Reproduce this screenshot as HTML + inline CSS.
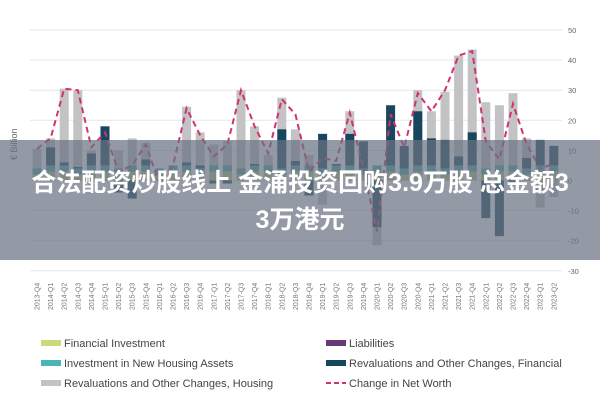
<!DOCTYPE html>
<html><head><meta charset="utf-8"><style>
body{margin:0;width:600px;height:400px;background:#fff;overflow:hidden;font-family:"Liberation Sans",sans-serif;position:relative}
.ban{position:absolute;left:0;top:140px;width:600px;height:120px;background:rgba(105,115,130,0.72);color:#fff;font:bold 25px "Liberation Sans","Noto Sans CJK SC",sans-serif;text-align:center;line-height:37px;padding-top:25px;box-sizing:border-box;white-space:nowrap}
</style></head><body>
<svg id="s" width="600" height="400" style="position:absolute;left:0;top:0"></svg>
<div class="ban">合法配资炒股线上 金涌投资回购3.9万股 总金额3<br>3万港元</div>
<script>
var s=document.getElementById('s'),h='';
function Y(v){return 180.5-v*3.01}
for(var v=-30;v<=50;v+=10){h+='<line x1="30" x2="562" y1="'+Y(v)+'" y2="'+Y(v)+'" stroke="#e3e6ea" stroke-width="1"/>';h+='<text x="568" y="'+(Y(v)+3)+'" font-size="7.5" fill="#666">'+v+'</text>';}
var lab=[],y=2013,q=4;for(var i=0;i<39;i++){lab.push(y+'-Q'+q);q++;if(q>4){q=1;y++;}}
var d=[[10.5,0,10.5],[14,11,14],[30.5,6,30.5],[30,4.5,30],[10,9,11],[17,18,16],[10,-4,3],[14,-6,5],[12.5,7,12],[2,1,-1],[4,-1,5],[24.5,6,24],[16,5,15],[12,-1,8],[13,-1,12],[30,3.5,30],[18,5.5,18],[8.5,1,9],[27.5,17,27],[17,6.5,22],[8.5,-5,3],[-8,15.5,7.5],[3,5.5,6.5],[23,15.5,22.5],[3,13,4],[-21.5,-15.5,-17],[8,25,22],[3,11.5,11],[30,23,29],[23,14,23],[29.5,13.5,30],[41.5,8,41.5],[43.5,16,43],[26,-12.5,13],[25,-18.5,7],[29,-1,25.5],[14,7.5,12],[-9,13.5,4],[-5.5,11.5,5.5]];
var pts=[];
for(var i=0;i<39;i++){var x=37+i*13.6,g=d[i][0],n=d[i][1],w=9,bx=x-w/2;
h+='<rect x="'+bx+'" y="'+Math.min(Y(g),Y(0))+'" width="'+w+'" height="'+Math.abs(g*3.01)+'" fill="#c3c3c5"/>';
var gr=(i%3==0)?2:3;h+='<rect x="'+bx+'" y="'+Y(gr)+'" width="'+w+'" height="'+(gr*3.01)+'" fill="#b7c77a"/>';
h+='<rect x="'+bx+'" y="'+Y(gr+2)+'" width="'+w+'" height="'+(2*3.01)+'" fill="#4aa3a8"/>';
if(n!=0)h+='<rect x="'+bx+'" y="'+Math.min(Y(n),n>0?Y(gr+2):Y(0))+'" width="'+w+'" height="'+(n>0?Math.max(0,(n-gr-2)*3.01):-n*3.01)+'" fill="#17465f"/>';
pts.push(x+','+Y(d[i][2]));
h+='<text transform="translate('+(x+2.5)+',310) rotate(-90)" font-size="7" fill="#777">'+lab[i]+'</text>';}
h+='<polyline points="'+pts.join(' ')+'" fill="none" stroke="#d0336e" stroke-width="2" stroke-dasharray="6,4"/>';
h+='<text transform="translate(17,160) rotate(-90)" font-size="9" fill="#666">€ Billion</text>';
var L=[[41,343,'#c8dc7e','Financial Investment'],[41,363,'#4ab5b8','Investment in New Housing Assets'],[41,383,'#c3c3c5','Revaluations and Other Changes, Housing'],[326,343,'#6b3a75','Liabilities'],[326,363,'#17465f','Revaluations and Other Changes, Financial']];
L.forEach(function(l){h+='<rect x="'+l[0]+'" y="'+(l[1]-3)+'" width="20" height="6" fill="'+l[2]+'"/><text x="'+(l[0]+23)+'" y="'+(l[1]+4)+'" font-size="11" fill="#444">'+l[3]+'</text>';});
h+='<line x1="326" x2="346" y1="383" y2="383" stroke="#d0336e" stroke-width="2" stroke-dasharray="5,3"/><text x="349" y="387" font-size="11" fill="#444">Change in Net Worth</text>';
s.innerHTML=h;
</script>
</body></html>
